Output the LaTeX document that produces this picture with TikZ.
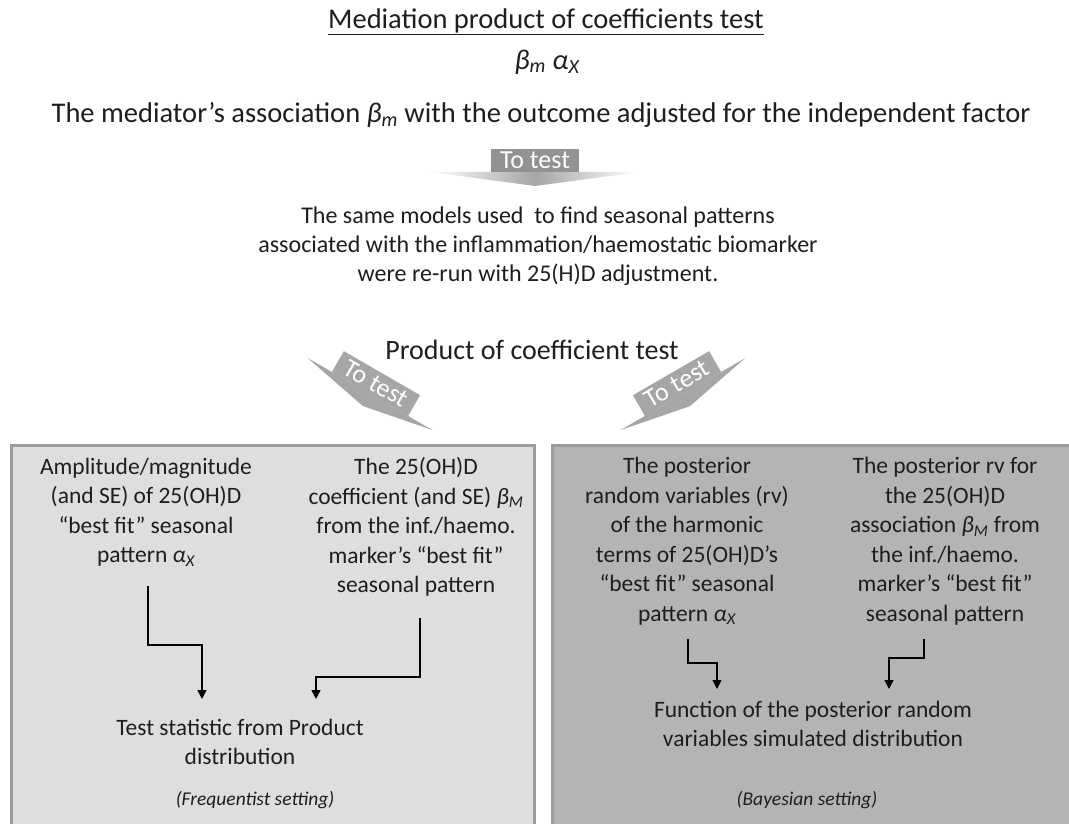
\documentclass[tikz,border=0pt]{standalone}
\usepackage{fontspec}
\setmainfont{Carlito}
\usetikzlibrary{arrows.meta}
\definecolor{lfill}{HTML}{DEDEDE}
\definecolor{rfill}{HTML}{B4B4B4}
\definecolor{bordergray}{HTML}{9C9C9C}
\definecolor{arrowgray}{HTML}{A6A6A6}
\definecolor{bannergray}{HTML}{929292}
\definecolor{txt}{HTML}{1E1E1E}
\tikzset{
  boxtext/.style={align=center, inner sep=0pt, text=txt, font=\fontsize{23.5}{29.5}\selectfont},
  bigtext/.style={align=center, inner sep=0pt, text=txt, font=\fontsize{28.5}{32}\selectfont},
  paratext/.style={align=center, inner sep=0pt, text=txt, font=\fontsize{24}{29}\selectfont},
  settingtext/.style={inner sep=0pt, text=txt, font=\fontsize{19.5}{22}\selectfont\itshape},
  panel/.style={draw=bordergray, line width=3pt},
  conn/.style={draw=black, line width=1.4pt, -{Triangle[length=9pt,width=9pt]}},
  bannertxt/.style={inner sep=0pt, text=white, font=\fontsize{26}{28}\selectfont, transform shape},
}
\newcommand{\banner}[3]{%
  \begin{scope}[shift={#1}, rotate=#2]
    \fill[arrowgray] (-72,0) -- (72,0) -- (0,14) -- cycle;
    \fill[arrowgray] (-44,-24) rectangle (44,0);
    \node[bannertxt] (#3) at (0,-12) {To test};
  \end{scope}}
\begin{document}
\begin{tikzpicture}[x=1pt,y=-1pt]
\useasboundingbox (0,0) rectangle (1069,824);
\clip (0,0) rectangle (1069,824);
\fill[white] (0,0) rectangle (1069,824);

% headings
\node[bigtext] (title) at (546,22) {\underline{Mediation product of coefficients test}};
\node[bigtext] (prod) at (547,62) {\itshape β\textsubscript{m} α\textsubscript{X}};
\node[bigtext] (mediator) at (541,115) {The mediator’s association {\itshape β}\textsubscript{\itshape m} with the outcome adjusted for the independent factor};

% top banner arrow
\begin{scope}[shift={(535,172)}]
  \shade[left color=white, right color=white, middle color=arrowgray] (-105,0) -- (105,0) -- (0,14) -- cycle;
  \fill[bannergray] (-44,-23) rectangle (44,0);
  \node[bannertxt] (tt0) at (0,-11.5) {To test};
\end{scope}

\node[paratext] (para) at (538,246) {The same models used \ to find seasonal patterns\\associated with the inflammation/haemostatic biomarker\\were re-run with 25(H)D adjustment.};

\node[bigtext, font=\fontsize{28}{30}\selectfont] (poc) at (532,350) {Product of coefficient test};

\banner{(370,394)}{-30}{tt1}
\banner{(683,394)}{30}{tt2}

% panels
\filldraw[panel, fill=lfill] (11,445) rectangle (534,840);
\filldraw[panel, fill=rfill] (552,445) rectangle (1085,840);

% left panel
\node[boxtext] (fa) at (146,512) {Amplitude/magnitude\\(and SE) of 25(OH)D\\“best fit” seasonal\\pattern {\itshape α\textsubscript{X}}};
\node[boxtext] (fb) at (416,527) {The 25(OH)D\\coefficient (and SE) {\itshape β\textsubscript{M}}\\from the inf./haemo.\\marker’s “best fit”\\seasonal pattern};
\node[boxtext] (fc) at (240,742) {Test statistic from Product\\distribution};
\node[settingtext] (fset) at (255,800) {(Frequentist setting)};
\coordinate (fa1) at (148,586);
\coordinate (fa2) at (202,645);
\coordinate (fa3) at (202,699);
\coordinate (fb1) at (420,618);
\coordinate (fb2) at (316,677);
\coordinate (fb3) at (316,699);
\draw[conn] (fa1) |- (fa2) -- (fa3);
\draw[conn] (fb1) |- (fb2) -- (fb3);

% right panel
\node[boxtext] (ba) at (687,541) {The posterior\\random variables (rv)\\of the harmonic\\terms of 25(OH)D’s\\“best fit” seasonal\\pattern {\itshape α\textsubscript{X}}};
\node[boxtext] (bb) at (945,541) {The posterior rv for\\the 25(OH)D\\association {\itshape β\textsubscript{M}} from\\the inf./haemo.\\marker’s “best fit”\\seasonal pattern};
\node[boxtext] (bc) at (813,724) {Function of the posterior random\\variables simulated distribution};
\node[settingtext] (bset) at (807,800) {(Bayesian setting)};
\coordinate (ba1) at (688,639);
\coordinate (ba2) at (717,663);
\coordinate (ba3) at (717,689);
\coordinate (bb1) at (924,639);
\coordinate (bb2) at (889,658);
\coordinate (bb3) at (889,689);
\draw[conn] (ba1) |- (ba2) -- (ba3);
\draw[conn] (bb1) |- (bb2) -- (bb3);
\end{tikzpicture}
\end{document}
